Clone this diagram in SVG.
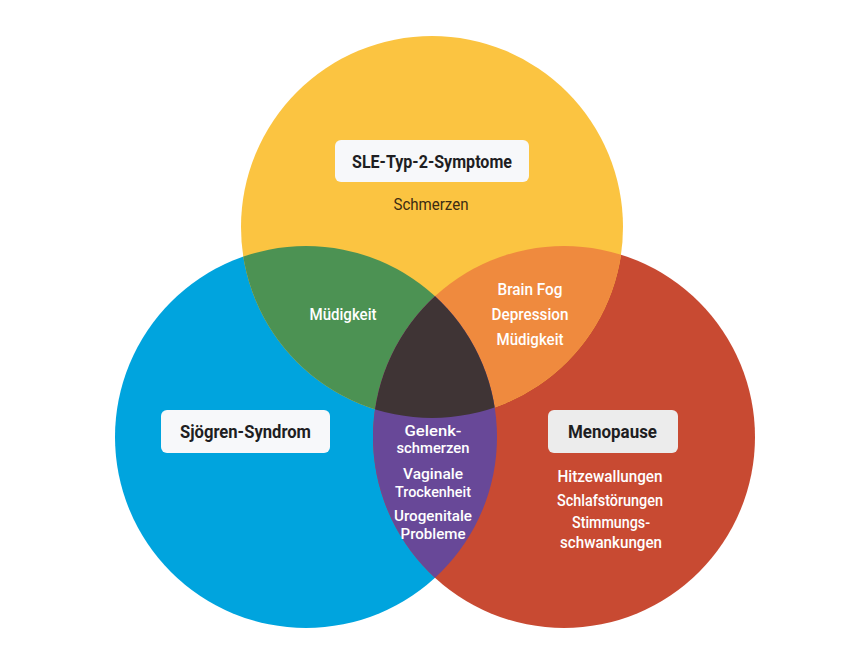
<svg xmlns="http://www.w3.org/2000/svg" width="854" height="669" viewBox="0 0 854 669">
<style>
.t{font-family:Roboto,"Liberation Sans",sans-serif;font-size:16px;fill:#ffffff;text-anchor:middle;font-weight:500}
.p{font-size:14.5px}
.h{font-family:Roboto,"Liberation Sans",sans-serif;font-size:19px;fill:#1e1e22;text-anchor:middle;font-weight:700}
.d{fill:#3b2b12}
.box{fill:#f7f8fa}
</style>
<defs>
<clipPath id="cy"><circle cx="432" cy="227" r="191"/></clipPath>
<clipPath id="cb"><circle cx="306" cy="437" r="191"/></clipPath>
</defs>
<rect width="854" height="669" fill="#ffffff"/>
<g id="circles">
<circle cx="306" cy="437" r="191" fill="#00a4de"/>
<circle cx="564" cy="437" r="191" fill="#c84a32"/>
<circle cx="432" cy="227" r="191" fill="#fbc441"/>
<circle cx="306" cy="437" r="191" fill="#4c9253" clip-path="url(#cy)"/>
<circle cx="564" cy="437" r="191" fill="#ef8a3e" clip-path="url(#cy)"/>
<circle cx="564" cy="437" r="191" fill="#684898" clip-path="url(#cb)"/>
<g clip-path="url(#cy)"><circle cx="564" cy="437" r="191" fill="#3f3435" clip-path="url(#cb)"/></g>
</g>
<g id="sle">
<rect class="box" x="335" y="140" width="194" height="42" rx="6"/>
<text class="h" x="432" y="168" textLength="160" lengthAdjust="spacingAndGlyphs">SLE-Typ-2-Symptome</text>
<text class="t d" x="431" y="210" textLength="75" lengthAdjust="spacingAndGlyphs" style="font-weight:400">Schmerzen</text>
</g>
<g id="sjoegren">
<rect class="box" x="161" y="410" width="169" height="43" rx="6"/>
<text class="h" x="245.5" y="438" textLength="131" lengthAdjust="spacingAndGlyphs">Sjögren-Syndrom</text>
</g>
<g id="menopause">
<rect x="548" y="410" width="130" height="43" rx="6" fill="#ececec"/>
<text class="h" x="612.5" y="438" textLength="89" lengthAdjust="spacingAndGlyphs">Menopause</text>
<text class="t" x="610" y="482" textLength="105" lengthAdjust="spacingAndGlyphs">Hitzewallungen</text>
<text class="t" x="610" y="506" textLength="106" lengthAdjust="spacingAndGlyphs">Schlafstörungen</text>
<text class="t" x="611" y="528" textLength="78" lengthAdjust="spacingAndGlyphs">Stimmungs-</text>
<text class="t" x="611" y="548" textLength="102" lengthAdjust="spacingAndGlyphs">schwankungen</text>
</g>
<g id="sle-sjoegren">
<text class="t" x="343" y="320" textLength="67" lengthAdjust="spacingAndGlyphs">Müdigkeit</text>
</g>
<g id="sle-menopause">
<text class="t" x="530" y="295" textLength="65" lengthAdjust="spacingAndGlyphs">Brain Fog</text>
<text class="t" x="530" y="320" textLength="77" lengthAdjust="spacingAndGlyphs">Depression</text>
<text class="t" x="530" y="345" textLength="67" lengthAdjust="spacingAndGlyphs">Müdigkeit</text>
</g>
<g id="sjoegren-menopause">
<text class="t p" x="433" y="436" textLength="57" lengthAdjust="spacingAndGlyphs">Gelenk-</text>
<text class="t p" x="433" y="453" textLength="73" lengthAdjust="spacingAndGlyphs">schmerzen</text>
<text class="t p" x="433" y="479" textLength="60" lengthAdjust="spacingAndGlyphs">Vaginale</text>
<text class="t p" x="433" y="497" textLength="76" lengthAdjust="spacingAndGlyphs">Trockenheit</text>
<text class="t p" x="433" y="521" textLength="78" lengthAdjust="spacingAndGlyphs">Urogenitale</text>
<text class="t p" x="433" y="539" textLength="65" lengthAdjust="spacingAndGlyphs">Probleme</text>
</g>
</svg>
